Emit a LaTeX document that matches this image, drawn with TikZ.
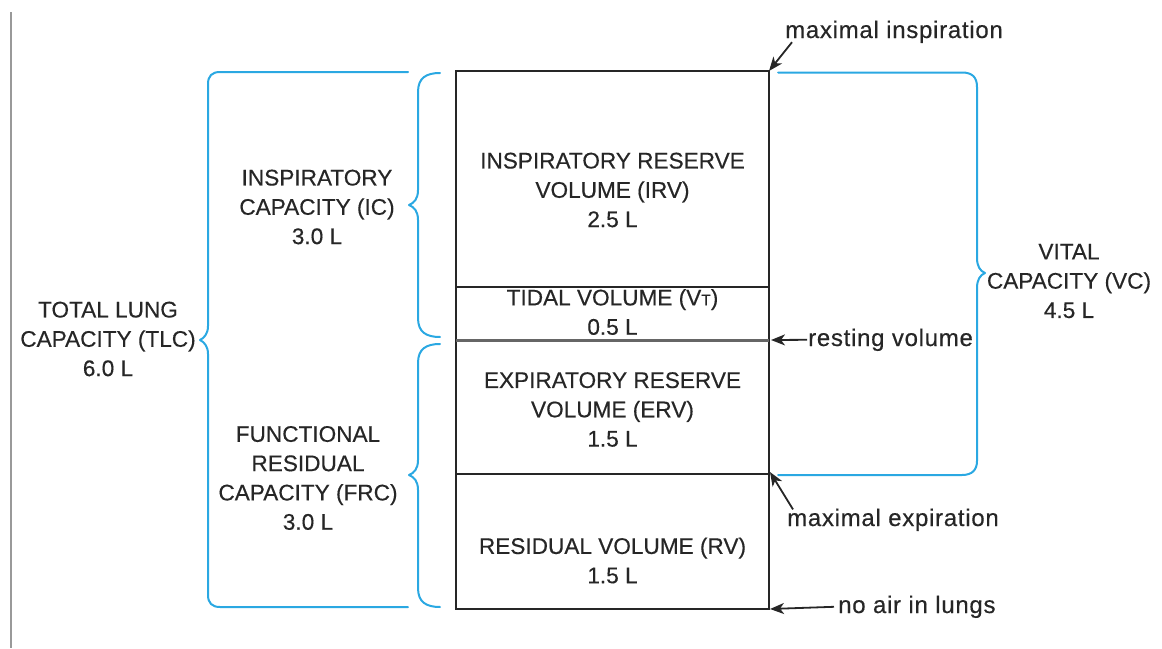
\documentclass[tikz,border=0pt]{standalone}
\usepackage{fontspec}
\setmainfont{Liberation Sans}[FakeBold=0.4]
\newfontfamily\notefont{Liberation Sans}[LetterSpace=3,FakeBold=0.4]
\usetikzlibrary{arrows.meta}
\definecolor{ink}{HTML}{262626}
\definecolor{bracecol}{HTML}{2AA8E2}
\definecolor{rule}{HTML}{999999}
\definecolor{restgray}{HTML}{666666}
\tikzset{
  boxline/.style={draw=ink, line width=1.6pt},
  restline/.style={draw=restgray, line width=3pt},
  brace/.style={draw=bracecol, line width=2pt, line cap=round, line join=round},
  caps/.style={text=ink, align=center, inner sep=0pt,
    font=\fontsize{22.6}{29.3}\selectfont},
  note/.style={text=ink, inner sep=1pt, anchor=base west,
    font=\notefont\fontsize{24}{28}\selectfont},
  pointer/.style={draw=ink, line width=1.8pt,
    -{Stealth[length=14pt,width=11pt,inset=4pt]}}
}
\begin{document}
\begin{tikzpicture}[x=1pt,y=-1pt]
\useasboundingbox (0,0) rectangle (1162,648);
% page rule on the left
\draw[rule, line width=2pt] (11,12) -- (11,648);

% corners of the volume column
\coordinate (TL) at (456,71);
\coordinate (TR) at (769,71);
\coordinate (BL) at (456,609);
\coordinate (BR) at (769,609);
\coordinate (tidTopL) at (456,287);
\coordinate (tidTopR) at (769,287);
\coordinate (restL) at (456,340);
\coordinate (restR) at (769,340);
\coordinate (expL) at (456,474);
\coordinate (expR) at (769,474);

% volume column
\draw[boxline] (TL) rectangle (BR);
\draw[boxline] (tidTopL) -- (tidTopR);
\draw[boxline] (expL) -- (expR);
\draw[restline] (restL) -- (restR);

% volumes
\node[caps] (irv) at (612.5,190) {INSPIRATORY RESERVE\\VOLUME (IRV)\\2.5 L};
\node[caps] (vt) at (612.5,312) {TIDAL VOLUME (V{\fontsize{15.5}{15.5}\selectfont T})\\0.5 L};
\node[caps] (erv) at (612.5,409.5) {EXPIRATORY RESERVE\\VOLUME (ERV)\\1.5 L};
\node[caps] (rv) at (612.5,560.5) {RESIDUAL VOLUME (RV)\\1.5 L};

% capacities
\node[caps] (ic) at (317,207) {INSPIRATORY\\CAPACITY (IC)\\3.0 L};
\node[caps] (frc) at (308,478) {FUNCTIONAL\\RESIDUAL\\CAPACITY (FRC)\\3.0 L};
\node[caps] (tlc) at (108,339) {TOTAL LUNG\\CAPACITY (TLC)\\6.0 L};
\node[caps] (vc) at (1069,281) {VITAL\\CAPACITY (VC)\\4.5 L};

% braces
\draw[brace] (408,72) -- (220,72) .. controls (212,72) and (208,76) .. (208,84)
  -- (208,326) .. controls (208,334) and (204,338) .. (200,340)
  .. controls (204,342) and (208,346) .. (208,354)
  -- (208,595) .. controls (208,603) and (212,607) .. (220,607) -- (408,607);
\draw[brace] (440,73) .. controls (426,73) and (418,78) .. (418,92)
  -- (418,190) .. controls (418,199) and (414,203) .. (409,205)
  .. controls (414,207) and (418,211) .. (418,220)
  -- (418,318) .. controls (418,332) and (426,337) .. (440,337);
\draw[brace] (440,344) .. controls (426,344) and (418,349) .. (418,363)
  -- (418,460) .. controls (418,469) and (414,473) .. (409,475)
  .. controls (414,477) and (418,481) .. (418,490)
  -- (418,588) .. controls (418,602) and (426,607) .. (440,607);
\draw[brace] (778,72.5) -- (962,72.5) .. controls (972,72.5) and (977,77) .. (977,87)
  -- (977,258) .. controls (977,266) and (980,271) .. (985,273)
  .. controls (980,275) and (977,280) .. (977,288)
  -- (977,461) .. controls (977,470) and (972,475) .. (962,475) -- (778,475);

% state labels and pointers
\node[note] (insp) at (784,38) {maximal inspiration};
\node[note] (rest) at (807,346) {resting volume};
\node[note] (exps) at (786,526) {maximal expiration};
\node[note] (noair) at (837,613) {no air in lungs};

\draw[pointer] ([xshift=8pt,yshift=2pt]insp.south west) -- (TR);
\draw[pointer] (rest.west) -- ([xshift=2pt]restR);
\draw[pointer] ([xshift=7pt,yshift=-2pt]exps.north west) -- ([xshift=1pt,yshift=2pt]expR);
\draw[pointer] ([xshift=-3pt]noair.west) -- ([xshift=1pt]BR);
\end{tikzpicture}
\end{document}
